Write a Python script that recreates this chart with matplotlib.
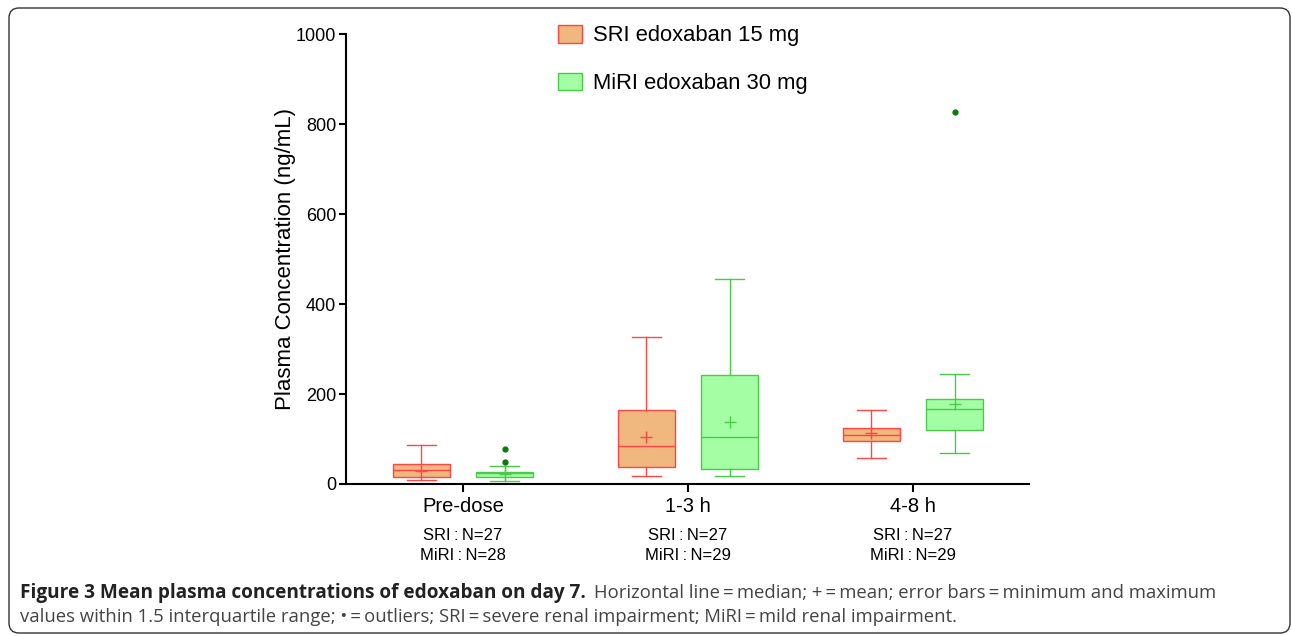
import matplotlib
matplotlib.use("Agg")
import matplotlib.pyplot as plt
from matplotlib.patches import Patch, FancyBboxPatch
from matplotlib.transforms import IdentityTransform

# Данные (нг/мл)
categories = ["Pre-dose", "1-3 h", "4-8 h"]
sri_n = [27, 27, 27]
miri_n = [28, 29, 29]

sri_whislo = [8, 18, 57]
sri_q1 = [15, 38, 96]
sri_med = [31, 84, 110]
sri_q3 = [44, 164, 124]
sri_whishi = [87, 326, 164]
sri_mean = [30, 105, 113]
sri_fliers = [[], [], []]

miri_whislo = [7, 18, 68]
miri_q1 = [16, 33, 120]
miri_med = [24, 104, 166]
miri_q3 = [27, 242, 190]
miri_whishi = [39, 456, 244]
miri_mean = [23, 138, 178]
miri_fliers = [[48, 78], [], [827]]

SRI_EDGE, SRI_FACE = "#ff4646", "#f0b77f"
MIRI_EDGE, MIRI_FACE = "#48cc48", "#a4ffa4"
FLIER = "#0b7a0b"

plt.rcParams["font.family"] = ["Liberation Sans", "DejaVu Sans"]


def _stats(lo, q1, med, q3, hi, mean, fl):
    return [dict(whislo=a, q1=b, med=c, q3=d, whishi=e, mean=f, fliers=g)
            for a, b, c, d, e, f, g in zip(lo, q1, med, q3, hi, mean, fl)]


def _draw(ax, stats, positions, edge, face):
    lw = 1.0
    ax.bxp(stats, positions=positions, widths=0.253, capwidths=0.127,
           patch_artist=True, showmeans=True, showfliers=True,
           boxprops=dict(facecolor=face, edgecolor=edge, linewidth=lw),
           whiskerprops=dict(color=edge, linewidth=lw),
           capprops=dict(color=edge, linewidth=lw),
           medianprops=dict(color=edge, linewidth=lw),
           meanprops=dict(marker="+", markeredgecolor=edge, markersize=9,
                          markeredgewidth=1.0),
           flierprops=dict(marker="o", markerfacecolor=FLIER,
                           markeredgecolor=FLIER, markersize=3.5))


fig = plt.figure(figsize=(12.92, 6.36), dpi=100)
ax = fig.add_axes([346 / 1292, 1 - 484 / 636, (1029 - 346) / 1292, 450 / 636])

x = list(range(len(categories)))
off = 0.185
_draw(ax, _stats(sri_whislo, sri_q1, sri_med, sri_q3, sri_whishi, sri_mean, sri_fliers),
      [i - off for i in x], SRI_EDGE, SRI_FACE)
_draw(ax, _stats(miri_whislo, miri_q1, miri_med, miri_q3, miri_whishi, miri_mean, miri_fliers),
      [i + off for i in x], MIRI_EDGE, MIRI_FACE)

ax.set_xlim(-0.52, 2.516)
ax.set_ylim(0, 1000)
ax.set_yticks([0, 200, 400, 600, 800, 1000])
ax.set_xticks(x)
ax.set_xticklabels(categories, fontsize=14.5)
ax.tick_params(axis="y", labelsize=13, width=1.5, length=5, pad=2)
ax.tick_params(axis="x", width=1.5, length=6, pad=3)
for s in ["top", "right"]:
    ax.spines[s].set_visible(False)
for s in ["left", "bottom"]:
    ax.spines[s].set_linewidth(1.5)
ax.set_ylabel("Plasma Concentration (ng/mL)", fontsize=16, labelpad=0)

# подписи с числом пациентов под категориями
tr = ax.get_xaxis_transform()
for i, (a, b) in enumerate(zip(sri_n, miri_n)):
    ax.text(i, (484 - 535) / 450, f"SRI\u2009:\u2009N={a}", transform=tr,
            ha="center", va="center", fontsize=12)
    ax.text(i, (484 - 556) / 450, f"MiRI\u2009:\u2009N={b}", transform=tr,
            ha="center", va="center", fontsize=12)

handles = [Patch(facecolor=SRI_FACE, edgecolor=SRI_EDGE, linewidth=1.0,
                 label="SRI edoxaban 15 mg"),
           Patch(facecolor=MIRI_FACE, edgecolor=MIRI_EDGE, linewidth=1.0,
                 label="MiRI edoxaban 30 mg")]
ax.legend(handles=handles, loc="upper left",
          bbox_to_anchor=(558 / 1292, 1 - 25 / 636), bbox_transform=fig.transFigure,
          frameon=False, fontsize=15.8, handlelength=1.1, handleheight=0.85,
          handletextpad=0.5, labelspacing=1.2, borderpad=0, borderaxespad=0)

# подпись к рисунку
cap_font = ["Open Sans", "DejaVu Sans"]
cap_size = 13.3
t1 = fig.text(20 / 1292, 1 - 598 / 636,
              "Figure 3 Mean plasma concentrations of edoxaban on day 7.",
              fontsize=13.7, fontweight="bold", color="#222222", family=cap_font,
              ha="left", va="baseline")
fig.canvas.draw()
ext = t1.get_window_extent()
fig.text((ext.x1 + 8) / 1292, 1 - 598 / 636,
         "Horizontal line\u2009=\u2009median; +\u2009=\u2009mean; error bars\u2009=\u2009minimum and maximum",
         fontsize=cap_size, color="#444444", family=cap_font, ha="left", va="baseline")
fig.text(20 / 1292, 1 - 622 / 636,
         "values within 1.5 interquartile range; \u2022\u2009=\u2009outliers; SRI\u2009=\u2009severe renal impairment; MiRI\u2009=\u2009mild renal impairment.",
         fontsize=cap_size, color="#444444", family=cap_font, ha="left", va="baseline")

# рамка вокруг всего рисунка
frame = FancyBboxPatch((9, 636 - 633), 1290 - 9, 633 - 8,
                       boxstyle="round,pad=0,rounding_size=10",
                       transform=IdentityTransform(), facecolor="none",
                       edgecolor="#333333", linewidth=1.0)
fig.patches.append(frame)

fig.savefig("out.png", dpi=100)
